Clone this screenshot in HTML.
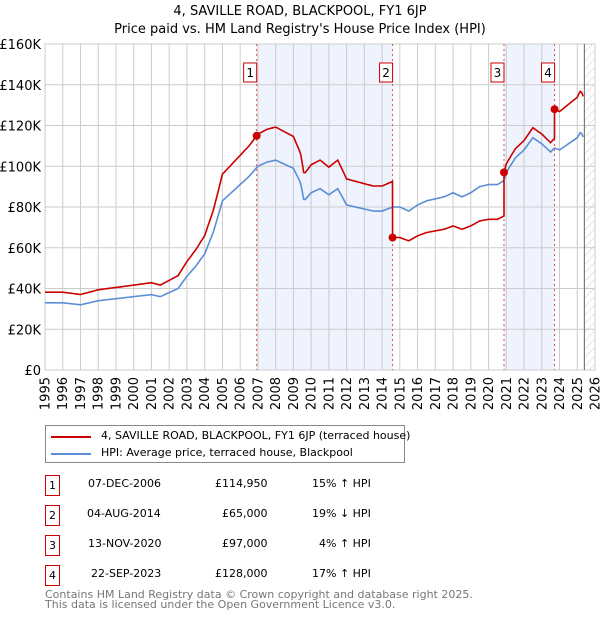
<!DOCTYPE html>
<html><head><meta charset="utf-8"><style>
body{margin:0;background:#fff;font-family:"Liberation Sans","DejaVu Sans",sans-serif;}
svg text{font-family:"DejaVu Sans","Liberation Sans",sans-serif;}
.t div{white-space:nowrap;}
</style></head><body>
<svg id="c" width="600" height="620" xmlns="http://www.w3.org/2000/svg" style="position:absolute;left:0;top:0"></svg>
<script>
const hpiYears=[1995,1996,1997,1998,1999,2000,2001,2001.5,2002,2002.5,2003,2003.5,2004,2004.5,2005,2005.5,2006,2006.5,2007,2007.5,2008,2008.5,2009,2009.4,2009.6,2010,2010.5,2011,2011.5,2012,2012.5,2013,2013.5,2014,2014.6,2015,2015.5,2016,2016.5,2017,2017.5,2018,2018.5,2019,2019.5,2020,2020.5,2020.87,2021,2021.5,2022,2022.5,2023,2023.5,2023.72,2024,2024.5,2025,2025.2,2025.4];
const hpiValues=[33,33,32,34,35,36,37,36,38,40,46,51,57,68,83,87,91,95,100,102,103,101,99,92,83,87,89,86,89,81,80,79,78,78,80,80,78,81,83,84,85,87,85,87,90,91,91,93,97,104,108,114,111,107,109,108,111,114,117,113];
const saleDates=[2006.93,2014.59,2020.87,2023.72];
const salePrices=[114.95,65,97,128];
const saleLabels=["1","2","3","4"];
const yTicks=[0,20,40,60,80,100,120,140,160];
const yTickLabels=["£0","£20K","£40K","£60K","£80K","£100K","£120K","£140K","£160K"];
const xTicks=[];for(let y=1995;y<=2026;y++)xTicks.push(y);
const NS="http://www.w3.org/2000/svg",svg=document.getElementById('c');
const L=45,R=595,T=44,B=370,Y0=1995,Y1=2026;
const X=t=>L+(t-Y0)/(Y1-Y0)*(R-L),Y=v=>B-v/160*(B-T);
function el(tag,a,p){const e=document.createElementNS(NS,tag);for(const k in a)e.setAttribute(k,a[k]);(p||svg).appendChild(e);return e;}
function hpiAt(t){for(let i=1;i<hpiYears.length;i++)if(t<=hpiYears[i]){const f=(t-hpiYears[i-1])/(hpiYears[i]-hpiYears[i-1]);return hpiValues[i-1]+f*(hpiValues[i]-hpiValues[i-1]);}return hpiValues[hpiValues.length-1];}
let t1=el('text',{x:300,y:15,'text-anchor':'middle','font-size':13});t1.textContent="4, SAVILLE ROAD, BLACKPOOL, FY1 6JP";

let t2=el('text',{x:300,y:33,'text-anchor':'middle','font-size':13});t2.textContent="Price paid vs. HM Land Registry's House Price Index (HPI)";

[[0,1],[2,3]].forEach(([a,b],i)=>{const r=el('rect',{x:X(saleDates[a]),y:T,width:X(saleDates[b])-X(saleDates[a]),height:B-T,fill:'#eef3fd'});
});
const defs=el('defs',{});const pat=el('pattern',{id:'h',width:6,height:6,patternUnits:'userSpaceOnUse',patternTransform:'rotate(45)'},defs);
el('line',{x1:0,y1:0,x2:0,y2:6,stroke:'#ccc','stroke-width':1},pat);
const hz=el('rect',{x:X(2025.4),y:T,width:R-X(2025.4),height:B-T,fill:'url(#h)'});

yTicks.forEach((v,i)=>{el('line',{x1:L,x2:R,y1:Y(v),y2:Y(v),stroke:'#cccccc'});
const tx=el('text',{x:L-4,y:Y(v)+5,'text-anchor':'end','font-size':13});tx.textContent=yTickLabels[i];
});
xTicks.forEach(y=>{el('line',{x1:X(y),x2:X(y),y1:T,y2:B,stroke:'#cccccc'});
const tx=el('text',{x:0,y:0,'text-anchor':'end','font-size':13,transform:`translate(${X(y)+4.5},${B+7}) rotate(-90)`});
tx.textContent=y;});
el('rect',{x:L,y:T,width:R-L,height:B-T,fill:'none',stroke:'#cccccc'});
el('line',{x1:X(2025.4),x2:X(2025.4),y1:T,y2:B,stroke:'#666'});
saleDates.forEach((d,i)=>{const ln=el('line',{x1:X(d),x2:X(d),y1:T,y2:B,stroke:'#e05050','stroke-dasharray':'2,3','stroke-width':1});

const bx=el('rect',{x:X(d)-13,y:63,width:13,height:19,fill:'#fff',stroke:'#cc0000'});

const tx=el('text',{x:X(d)-6.5,y:77,'text-anchor':'middle','font-size':12});tx.textContent=saleLabels[i];
});
const ts=[];for(let t=1995;t<=2025.4001;t+=1/12)ts.push(+t.toFixed(4));
const hp=ts.map(t=>`${X(t).toFixed(1)},${Y(hpiAt(t)).toFixed(1)}`).join(' ');
const hl=el('polyline',{points:hp,fill:'none',stroke:'#5b8ed6','stroke-width':1.6});

function redAt(t){let i=0;for(let k=0;k<saleDates.length;k++)if(t>=saleDates[k])i=k;return salePrices[i]*hpiAt(t)/hpiAt(saleDates[i]);}
const rts=ts.concat(saleDates.map(d=>d-0.001),saleDates).sort((a,b)=>a-b);
const rp=rts.map(t=>`${X(t).toFixed(1)},${Y(redAt(t)).toFixed(1)}`).join(' ');
const rl=el('polyline',{points:rp,fill:'none',stroke:'#cc0000','stroke-width':1.6});

saleDates.forEach((d,i)=>{const c=el('circle',{cx:X(d),cy:Y(salePrices[i]),r:4,fill:'#cc0000'});
});
</script>
<div class="t" style="position:absolute;left:45px;top:425px;width:358px;height:36px;border:1px solid #888;font-size:11px;font-family:'DejaVu Sans',sans-serif;">
<div style="position:absolute;left:5px;top:10px;width:40px;height:2px;background:#cc0000"></div>
<div style="position:absolute;left:55px;top:3px;">4, SAVILLE ROAD, BLACKPOOL, FY1 6JP (terraced house)</div>
<div style="position:absolute;left:5px;top:27px;width:40px;height:2px;background:#5b8ed6"></div>
<div style="position:absolute;left:55px;top:20px;">HPI: Average price, terraced house, Blackpool</div>
</div>
<div class="t" style="position:absolute;left:0;top:0;font-size:11px;font-family:'DejaVu Sans',sans-serif;">
<div style="position:absolute;left:45px;top:475px;width:13px;height:19px;border:1px solid #cc0000;text-align:center;line-height:19px">1</div>
<div style="position:absolute;left:88px;top:477px">07-DEC-2006</div><div style="position:absolute;left:215px;top:477px">£114,950</div><div style="position:absolute;left:312px;top:477px">15% ↑ HPI</div>
<div style="position:absolute;left:45px;top:505px;width:13px;height:19px;border:1px solid #cc0000;text-align:center;line-height:19px">2</div>
<div style="position:absolute;left:87px;top:507px">04-AUG-2014</div><div style="position:absolute;left:222px;top:507px">£65,000</div><div style="position:absolute;left:312px;top:507px">19% ↓ HPI</div>
<div style="position:absolute;left:45px;top:535px;width:13px;height:19px;border:1px solid #cc0000;text-align:center;line-height:19px">3</div>
<div style="position:absolute;left:88px;top:537px">13-NOV-2020</div><div style="position:absolute;left:222px;top:537px">£97,000</div><div style="position:absolute;left:319px;top:537px">4% ↑ HPI</div>
<div style="position:absolute;left:45px;top:565px;width:13px;height:19px;border:1px solid #cc0000;text-align:center;line-height:19px">4</div>
<div style="position:absolute;left:91px;top:567px">22-SEP-2023</div><div style="position:absolute;left:215px;top:567px">£128,000</div><div style="position:absolute;left:312px;top:567px">17% ↑ HPI</div>
</div>
<div class="t" style="position:absolute;left:45px;top:590px;font-size:11px;line-height:10px;color:#777;font-family:'DejaVu Sans',sans-serif;"><div>Contains HM Land Registry data © Crown copyright and database right 2025.</div><div>This data is licensed under the Open Government Licence v3.0.</div></div>
</body></html>
